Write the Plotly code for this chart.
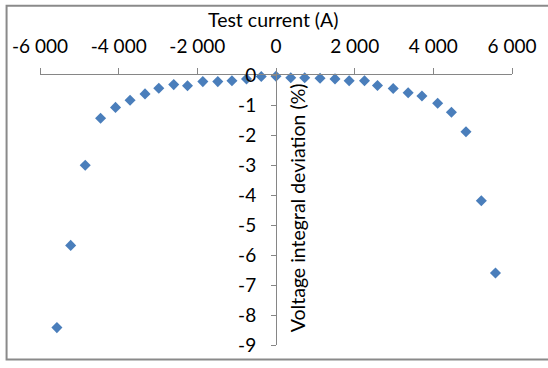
import plotly.graph_objects as go

# Test current (A) and the resulting voltage integral deviation (%)
current_a = [-5570, -5220, -4850, -4460, -4080, -3710, -3330, -2980, -2600, -2250,
             -1860, -1480, -1120, -750, -375, 0, 375, 730, 1120, 1500,
             1860, 2250, 2580, 2980, 3360, 3710, 4110, 4460, 4830, 5220, 5580]
deviation_pct = [-8.42, -5.68, -3.01, -1.44, -1.08, -0.84, -0.63, -0.44, -0.32, -0.36,
                 -0.22, -0.22, -0.19, -0.13, -0.05, -0.04, -0.09, -0.09, -0.11, -0.13,
                 -0.19, -0.19, -0.35, -0.45, -0.59, -0.70, -0.94, -1.24, -1.89, -4.19, -6.60]

x_tick_vals = [-6000, -4000, -2000, 0, 2000, 4000, 6000]
x_tick_text = ["-6 000", "-4 000", "-2 000", "0", "2 000", "4 000", "6 000"]
y_tick_vals = [0, -1, -2, -3, -4, -5, -6, -7, -8, -9]
y_tick_text = ["0", "-1", "-2", "-3", "-4", "-5", "-6", "-7", "-8", "-9"]

W, H = 548, 368
L, R, T, B = 40, 28, 75, 16
plot_w = W - L - R
plot_h = H - T - B

def px_x(p):
    return (p - L) / plot_w

def px_y(p):
    return (H - B - p) / plot_h

FONT = "Lato, Carlito, Calibri, sans-serif"
AXIS_GREY = "#868686"

fig = go.Figure()
fig.add_trace(go.Scatter(
    x=current_a, y=deviation_pct, mode="markers",
    marker=dict(symbol="diamond", size=8.5, color="#4A7EBB",
                line=dict(width=0)),
    cliponaxis=False, showlegend=False,
))

fig.update_layout(
    width=W, height=H,
    margin=dict(l=L, r=R, t=T, b=B),
    paper_bgcolor="white", plot_bgcolor="white",
    font=dict(family=FONT, size=19, color="#000000"),
    xaxis=dict(
        range=[-6000, 6000], side="top",
        tickvals=x_tick_vals, ticktext=x_tick_text,
        showline=True, linecolor=AXIS_GREY, linewidth=1,
        ticks="outside", ticklen=6, tickcolor=AXIS_GREY, tickwidth=1,
        ticklabelstandoff=7,
        showgrid=False, zeroline=False, fixedrange=True,
    ),
    yaxis=dict(
        range=[-9, 0], anchor="free", position=0.5,
        tickvals=y_tick_vals, ticktext=y_tick_text,
        showline=True, linecolor=AXIS_GREY, linewidth=1,
        ticks="outside", ticklen=5, tickcolor=AXIS_GREY, tickwidth=1,
        ticklabelstandoff=11,
        showgrid=False, zeroline=False, fixedrange=True,
    ),
    annotations=[
        dict(text="Test current (A)", xref="paper", yref="paper",
             x=px_x(277), y=px_y(18), xanchor="center", yanchor="middle",
             showarrow=False, font=dict(size=19.5)),
        dict(text="Voltage integral deviation (%)", xref="paper", yref="paper",
             x=px_x(302), y=px_y(211), xanchor="center", yanchor="middle",
             textangle=-90, showarrow=False, font=dict(size=19.5)),
    ],
    shapes=[
        dict(type="rect", xref="paper", yref="paper",
             x0=px_x(6), x1=px_x(W + 10), y0=px_y(367), y1=px_y(4),
             line=dict(color="#8A8A8A", width=2), fillcolor="rgba(0,0,0,0)",
             layer="below"),
    ],
)

fig.write_html("out.html")
